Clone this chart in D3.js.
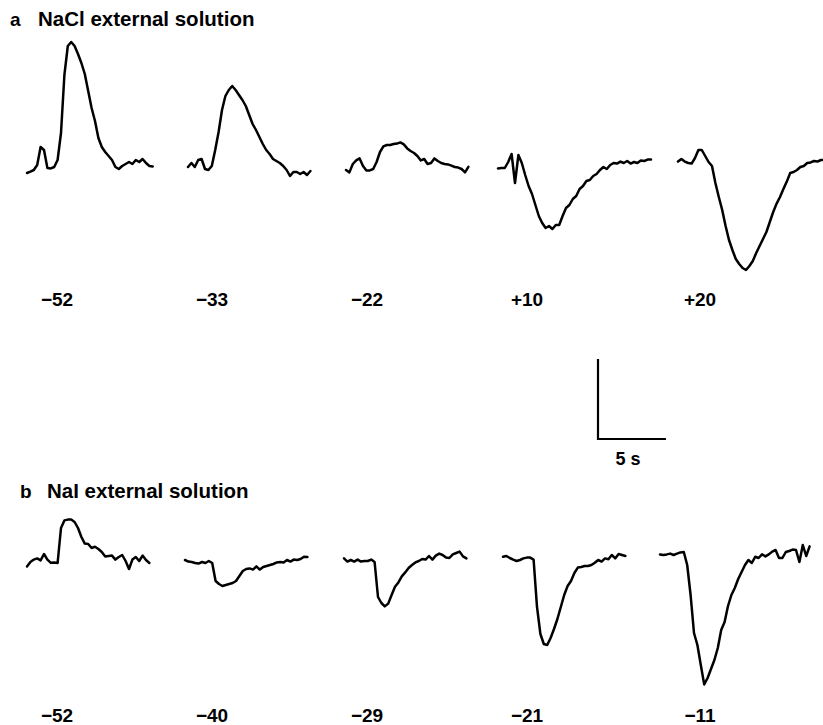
<!DOCTYPE html>
<html>
<head>
<meta charset="utf-8">
<script src="https://cdn.jsdelivr.net/npm/d3@7"></script>
<style>
  body { margin: 0; background: #fff; }
  text { font-family: "Liberation Sans", Arial, sans-serif; fill: #000; }
</style>
</head>
<body>
<div id="fig"></div>
<script>
// sampling interval of the traces (s)
var dt = 0.25;

// holding potentials (mV)
var potentialsA = ["\u221252", "\u221233", "\u221222", "+10", "+20"];
var potentialsB = ["\u221252", "\u221240", "\u221229", "\u221221", "\u221211"];

// a: NaCl external solution, current (arbitrary units, scale bar = 20)
var nacl52 = [-0.75,-0.4,0,1.25,5.75,5,0.5,0.4,0.75,2.5,9.25,23.75,31,32,31,29,26.75,24,19.75,15.5,12.25,8,5.75,4.5,3.5,2.5,0.75,0.25,1,1.5,2,1.5,2.5,2,2.75,1.75,1,0.9];
var nacl33 = [0.75,1.75,0.75,2.5,2.75,0.25,0,1,5,9.5,15,18.5,20,21,20,18.75,17.5,16,13.75,11.5,10,8.25,6.5,5,4,2.75,2.25,1.75,1,0,-1.5,-0.5,-0.5,-1,-0.5,-1.25,-0.25];
var nacl22 = [0,-0.6,1.5,2.4,2.9,1,-0.1,-0.1,0.25,2,4.5,5.9,6.25,6.25,6.5,6.6,6.9,6.4,5.4,4.75,4.25,3.5,2.4,2.75,1.5,1.75,2.9,2.25,1.75,1.5,1.4,1.1,0.75,0.6,0.25,-0.6,0.8];
var naclP10 = [0.4,0.5,0.5,2,4,-3.25,3.75,1.75,-1.25,-4,-6,-8.75,-11.5,-13.25,-14.5,-14,-14.75,-13.75,-13.75,-11.5,-9.5,-8.75,-7.25,-6.5,-4.75,-4,-2.75,-2.5,-1.5,-1,0,0.75,0.25,1.25,1.75,1.6,2.1,1.75,2.25,1.6,2,1.75,2.4,2.25,2.6,2.6];
var naclP20 = [2.1,2.75,2.1,1.75,1.6,3,5,5,3.5,2,1,-3.25,-6.75,-10,-14,-17.5,-20,-22.25,-23.5,-24.5,-25,-24,-22.75,-20.75,-19,-17.25,-15.5,-13,-10.5,-8.4,-6.75,-4.75,-2.9,-0.75,-0.5,0,0.75,1,1.75,1.9,2.25,2.1,2.5,2.5];

// b: NaI external solution
var nai52 = [-1.6,-0.5,0.1,0.4,-0.1,1.5,0.1,-0.7,-0.6,-0.75,8,9.9,10.1,10.1,9.5,8,5.75,4.1,4,3,3.3,2.75,2,0.9,1,1.1,0.1,0.75,1.25,-0.25,-2.25,0.1,0.75,-0.25,1.1,0,-0.75];
var nai40 = [0,-0.4,-0.5,-0.75,-0.9,-0.5,-0.75,-0.25,-0.75,-5.25,-6,-6.5,-6.25,-6,-5.75,-5.25,-4,-2.75,-2.25,-2.1,-2.4,-1.6,-2.4,-1.75,-1.5,-1.25,-1,-0.6,-0.5,-0.6,0,-0.4,0.1,0,0.25,0.8,0.75];
var nai29 = [0.4,-0.4,0,-0.4,0.1,-0.4,-0.25,-0.25,0.1,-0.5,-9.25,-10.75,-11.6,-10.9,-8.75,-6.7,-5.6,-4.1,-3.1,-2,-1.25,-0.6,-0.25,0.25,0.1,1,0.1,1.1,1.6,1.25,0.6,0.5,1.4,1.75,2.1,0.9,0.4];
var nai21 = [0.8,1,0.5,0.1,-0.25,0,0.4,0.6,0.6,0.1,-11.7,-18.5,-21,-21.25,-19.5,-17.25,-14.75,-11.75,-8.75,-6.5,-5.25,-3.25,-1.9,-1.75,-1.5,-1.5,-1.25,-0.7,0,-0.4,0.4,0.2,1.25,0.4,1.5,1.25,1];
var nai11 = [1.4,1.25,1.4,1.6,1.25,1.6,1.9,2,-1.25,-8.75,-18.25,-21.25,-26.25,-31.1,-29.5,-27.25,-25,-22,-17.5,-15.5,-11.5,-8.75,-7,-4.75,-3,-1.25,0,-0.75,0.8,0.5,1.4,0.9,1.4,2.1,2.5,0.5,0.5,2,2.25,2.6,2.5,-0.5,3.75,1,3.4];

var tracesA = [nacl52, nacl33, nacl22, naclP10, naclP20];
var tracesB = [nai52, nai40, nai29, nai21, nai11];

// layout
var W = 823, H = 725;
var rows = [
  { letter: "a", title: "NaCl external solution", traces: tracesA, labels: potentialsA,
    tx: 10, titleX: 38, titleY: 26, base: 170, labelY: 306, x0: [27, 188, 346, 498, 678] },
  { letter: "b", title: "NaI external solution", traces: tracesB, labels: potentialsB,
    tx: 20, titleX: 47, titleY: 498, base: 560, labelY: 722, x0: [27, 185, 344, 503, 660] }
];
var labelX = [57, 212, 367, 527, 700];

// scales: 5 s and 20 units scale bar
var x = d3.scaleLinear().domain([0, 5]).range([0, 68]);
var y = d3.scaleLinear().domain([0, 20]).range([0, -80]);

var svg = d3.select("#fig").append("svg")
  .attr("width", W)
  .attr("height", H);

rows.forEach(function(r) {
  var g = svg.append("g");

  g.append("text")
    .attr("x", r.tx).attr("y", r.titleY)
    .attr("font-size", 19).attr("font-weight", "bold")
    .text(r.letter);
  g.append("text")
    .attr("x", r.titleX).attr("y", r.titleY)
    .attr("font-size", 20.5).attr("font-weight", "bold")
    .text(r.title);

  r.traces.forEach(function(tr, k) {
    var line = d3.line()
      .x(function(d, i) { return r.x0[k] + x(i * dt); })
      .y(function(d) { return r.base + y(d); });
    g.append("path")
      .datum(tr)
      .attr("d", line)
      .attr("fill", "none")
      .attr("stroke", "#000")
      .attr("stroke-width", 2.5)
      .attr("stroke-linejoin", "round")
      .attr("stroke-linecap", "round");

    g.append("text")
      .attr("x", labelX[k]).attr("y", r.labelY)
      .attr("text-anchor", "middle")
      .attr("font-size", 19).attr("font-weight", "bold")
      .text(r.labels[k]);
  });
});

// scale bar
var sb = svg.append("g").attr("transform", "translate(598,439)");
sb.append("path")
  .attr("d", "M0," + y(20) + "V0H" + x(5))
  .attr("fill", "none")
  .attr("stroke", "#000")
  .attr("stroke-width", 2.2);
sb.append("text")
  .attr("x", x(5) / 2 - 4).attr("y", 26)
  .attr("text-anchor", "middle")
  .attr("font-size", 18).attr("font-weight", "bold")
  .text("5 s");
</script>
</body>
</html>
